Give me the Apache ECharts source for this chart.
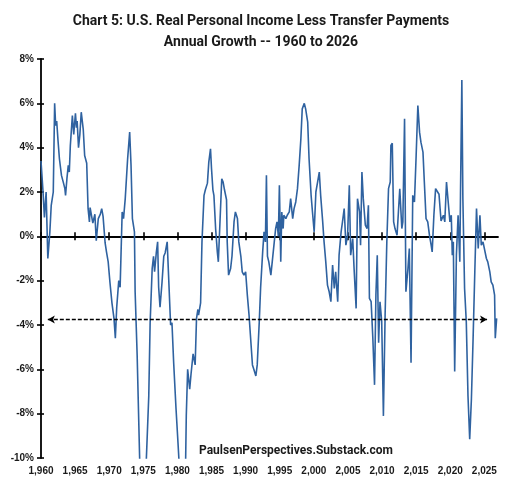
<!DOCTYPE html>
<html>
<head>
<meta charset="utf-8">
<script src="https://cdn.jsdelivr.net/npm/echarts@6/dist/echarts.min.js"></script>
<style>
  html, body { margin: 0; padding: 0; background: #fff; }
  #main { width: 522px; height: 486px; }
</style>
</head>
<body>
<div id="main"></div>
<script>
// year (fractional) and annual growth in %
var years = [
  1960.0, 1960.3, 1960.5, 1960.75, 1961.0, 1961.3, 1961.5, 1961.8, 1962.0, 1962.15,
  1962.3, 1962.5, 1962.7, 1963.0, 1963.3, 1963.5, 1963.6, 1963.8, 1964.0, 1964.15,
  1964.3, 1964.6, 1964.8, 1965.05, 1965.2, 1965.3, 1965.5, 1965.7, 1965.9, 1966.2,
  1966.4, 1966.7, 1966.9, 1967.1, 1967.2, 1967.4, 1967.6, 1967.9, 1968.1, 1968.4,
  1968.7, 1968.9, 1969.1, 1969.4, 1969.6, 1969.85, 1970.1, 1970.4, 1970.7, 1970.9,
  1971.1, 1971.4, 1971.6, 1971.9, 1972.1, 1972.35, 1972.7, 1973.0, 1973.2, 1973.4,
  1973.7, 1973.8, 1974.1, 1974.5, 1974.8, 1975.2, 1975.5, 1975.8, 1976.0, 1976.3,
  1976.5, 1976.65, 1976.9, 1977.1, 1977.25, 1977.45, 1977.75, 1978.0, 1978.2, 1978.5,
  1978.7, 1979.0, 1979.2, 1979.45, 1979.8, 1980.1, 1980.3, 1980.7, 1981.0, 1981.2,
  1981.3, 1981.5, 1981.8, 1982.0, 1982.3, 1982.6, 1982.8, 1983.0, 1983.1, 1983.4,
  1983.6, 1983.9, 1984.1, 1984.4, 1984.6, 1984.85, 1985.0, 1985.2, 1985.35, 1985.6,
  1985.85, 1986.0, 1986.2, 1986.5, 1986.7, 1986.9, 1987.2, 1987.3, 1987.5, 1987.8,
  1988.0, 1988.3, 1988.5, 1988.8, 1989.0, 1989.3, 1989.5, 1989.75, 1990.0, 1990.25,
  1990.5, 1990.7, 1991.0, 1991.2, 1991.5, 1991.7, 1992.0, 1992.2, 1992.5, 1992.7,
  1992.9, 1993.05, 1993.2, 1993.4, 1993.7, 1993.9, 1994.2, 1994.4, 1994.6, 1994.8,
  1994.95, 1995.15, 1995.3, 1995.5, 1995.6, 1995.9, 1996.1, 1996.4, 1996.6, 1996.9,
  1997.1, 1997.35, 1997.6, 1997.85, 1998.1, 1998.3, 1998.6, 1998.8, 1999.1, 1999.3,
  1999.6, 1999.8, 2000.05, 2000.3, 2000.55, 2000.8, 2001.0, 2001.3, 2001.5, 2001.75,
  2002.0, 2002.25, 2002.5, 2002.75, 2003.0, 2003.2, 2003.5, 2003.7, 2004.0, 2004.2,
  2004.45, 2004.7, 2004.95, 2005.2, 2005.4, 2005.7, 2005.9, 2006.2, 2006.4, 2006.7,
  2006.85, 2007.05, 2007.25, 2007.55, 2007.8, 2008.0, 2008.15, 2008.4, 2008.65, 2008.9,
  2009.1, 2009.3, 2009.5, 2009.7, 2009.95, 2010.2, 2010.45, 2010.7, 2010.95, 2011.2,
  2011.3, 2011.5, 2011.7, 2011.9, 2012.2, 2012.4, 2012.6, 2012.9, 2013.05, 2013.3,
  2013.5, 2013.8, 2014.0, 2014.25, 2014.5, 2014.75, 2015.0, 2015.25, 2015.5, 2015.7,
  2016.0, 2016.2, 2016.45, 2016.7, 2016.95, 2017.2, 2017.35, 2017.6, 2017.85, 2018.1,
  2018.35, 2018.65, 2019.0, 2019.2, 2019.45, 2019.7, 2019.95, 2020.15, 2020.3, 2020.45,
  2020.65, 2020.9, 2021.15, 2021.4, 2021.5, 2021.7, 2021.85, 2022.1, 2022.35, 2022.6,
  2022.85, 2023.1, 2023.35, 2023.6, 2023.85, 2024.1, 2024.35, 2024.55, 2024.8, 2025.05,
  2025.3, 2025.5, 2025.8, 2026.0, 2026.25, 2026.5, 2026.6, 2026.8
];
var growth = [
  3.4, 2.0, 0.85, 2.0, -1.0, 0.2, 1.4, 2.0, 6.0, 5.0,
  5.2, 4.3, 3.5, 2.75, 2.4, 2.15, 1.85, 2.6, 3.2, 2.9,
  4.1, 5.45, 4.6, 5.55, 4.9, 5.2, 4.0, 4.6, 5.6, 4.8,
  3.65, 3.3, 1.26, 0.65, 1.3, 1.3, 0.6, 1.0, -0.2, 0.8,
  1.0, 1.25, 0.9, -0.3, -0.7, -1.15, -2.05, -3.0, -3.7, -4.6,
  -3.2, -2.0, -2.3, 1.1, 0.8, 1.7, 3.5, 4.7, 3.2, 0.8,
  0.2, -2.5, -5.4, -10.5, -13.0, -12.0, -9.6, -7.2, -3.9, -1.45,
  -0.9, -1.6, -0.75, -0.25, -2.3, -3.2, -2.05, -0.9, -0.75, -0.25,
  -1.75, -4.0, -3.9, -5.7, -7.8, -9.4, -10.5, -12.0, -11.0, -10.2,
  -8.1, -6.0, -6.9, -6.2, -5.3, -5.8, -3.7, -3.3, -3.55, -3.0,
  -0.25, 1.85, 2.1, 2.4, 3.35, 3.95, 3.05, 2.1, 1.85, 0.35,
  -0.7, -1.15, 0.35, 2.6, 2.45, 2.1, 1.65, -0.25, -1.75, -1.45,
  -0.9, 0.65, 1.1, 0.8, -0.25, -0.9, -1.6, -1.75, -1.6, -2.65,
  -3.55, -4.45, -5.8, -6.0, -6.3, -5.8, -3.85, -2.3, -0.7, 0.2,
  -0.25, 2.75, -0.9, -1.15, -1.75, -1.15, -0.25, 0.35, 0.65, 0.0,
  2.3, -1.15, 1.1, 0.35, 0.95, 0.8, 0.95, 1.1, 1.7, 0.8,
  1.25, 1.55, 2.15, 3.2, 4.4, 5.75, 6.0, 5.75, 5.15, 3.5,
  1.85, 1.1, 0.2, 2.0, 2.45, 2.9, 1.85, 0.65, -0.25, -1.15,
  -2.2, -2.5, -2.95, -1.3, -2.35, -1.6, -2.95, -0.85, 0.2, 0.65,
  1.25, -0.4, 0.05, 2.3, -0.85, -0.1, -1.45, -3.25, 1.7, 1.1,
  -0.4, 2.9, 1.7, 0.5, 0.35, 1.4, -2.8, -2.95, -4.6, -6.7,
  -2.65, -0.85, -4.8, -2.95, -3.85, -8.1, -3.55, -0.25, 2.15, 2.45,
  4.1, 4.2, 0.65, 0.35, 0.05, 1.1, 2.15, 0.35, 0.65, 5.3,
  -2.5, -1.45, -0.55, -5.7, 1.85, 1.55, 3.65, 5.9, 4.7, 4.25,
  3.8, 2.45, 0.8, 0.65, 0.05, -0.4, -0.7, 0.95, 2.15, 2.15,
  1.9, 0.7, 0.95, 0.65, 2.45, 1.55, 0.65, 0.95, -0.85, -0.25,
  -6.1, -0.85, 0.95, -1.15, 1.85, 7.05, 1.7, -2.35, -3.85, -7.2,
  -9.15, -7.35, -4.6, -1.6, 1.25, -0.55, 0.95, -0.4, -0.25, -0.25,
  -1.0, -1.15, -1.6, -2.05, -2.2, -2.65, -4.6, -3.7
];
var yearTicks = [1960, 1965, 1970, 1975, 1980, 1985, 1990, 1995, 2000, 2005, 2010, 2015, 2020, 2025];
var arrowLevel = -3.75;
var arrowFrom = 1961.0;
var arrowTo = 2025.4;

var seriesData = [];
for (var i = 0; i < years.length; i++) {
    seriesData.push([years[i], growth[i]]);
}

var xMin = 1960, xMax = 2027;
var labelFont = 'Liberation Sans, Arial, sans-serif';

var myChart = echarts.init(document.getElementById('main'));
var option = {
    backgroundColor: '#fff',
    animation: false,
    title: {
        text: 'Chart 5: U.S. Real Personal Income Less Transfer Payments\nAnnual Growth -- 1960 to 2026',
        left: 'center',
        top: 6,
        textStyle: {
            fontFamily: 'Roboto',
            fontWeight: 'bold',
            fontSize: 14,
            lineHeight: 21,
            color: '#1a1a1a'
        }
    },
    grid: {
        left: 41,
        right: 24,
        top: 59,
        bottom: 28
    },
    graphic: [{
        type: 'text',
        left: 199,
        top: 445,
        style: {
            text: 'PaulsenPerspectives.Substack.com',
            font: 'bold 12px Roboto',
            fill: '#1a1a1a'
        }
    }],
    xAxis: [
        {   // labels along the bottom
            type: 'value',
            min: xMin,
            max: xMax,
            position: 'bottom',
            axisLine: { show: false, onZero: false },
            axisTick: { show: false },
            splitLine: { show: false },
            axisLabel: {
                customValues: yearTicks,
                margin: 8,
                fontFamily: labelFont,
                fontWeight: 'bold',
                fontSize: 10,
                color: '#1a1a1a'
            }
        },
        {   // zero line, ticks going down
            type: 'value',
            min: xMin,
            max: xMax,
            position: 'bottom',
            axisLine: { show: true, onZero: true, lineStyle: { color: '#000', width: 1.8 } },
            axisTick: { show: true, customValues: yearTicks, length: 4, lineStyle: { color: '#000', width: 1.6 } },
            axisLabel: { show: false },
            splitLine: { show: false }
        },
        {   // zero line, ticks going up
            type: 'value',
            min: xMin,
            max: xMax,
            position: 'top',
            axisLine: { show: false, onZero: true },
            axisTick: { show: true, customValues: yearTicks, length: 4, lineStyle: { color: '#000', width: 1.6 } },
            axisLabel: { show: false },
            splitLine: { show: false }
        }
    ],
    yAxis: [
        {
            type: 'value',
            min: -10,
            max: 8,
            interval: 2,
            axisLine: { show: true, onZero: false, lineStyle: { color: '#000', width: 1.8 } },
            axisTick: { show: true, length: 4, lineStyle: { color: '#000', width: 1.6 } },
            splitLine: { show: false },
            axisLabel: {
                formatter: '{value}%',
                margin: 7,
                fontFamily: labelFont,
                fontWeight: 'bold',
                fontSize: 10,
                color: '#1a1a1a'
            }
        },
        {
            type: 'value',
            min: -10,
            max: 8,
            interval: 2,
            position: 'left',
            axisLine: { show: false, onZero: false },
            axisTick: { show: true, inside: true, length: 3, lineStyle: { color: '#000', width: 1.6 } },
            axisLabel: { show: false },
            splitLine: { show: false }
        }
    ],
    series: [
        {
            name: 'Real personal income less transfers',
            type: 'line',
            xAxisIndex: 0,
            yAxisIndex: 0,
            data: seriesData,
            showSymbol: false,
            clip: true,
            lineStyle: { color: '#2f62a0', width: 1.6 },
            markLine: {
                silent: true,
                symbol: ['arrow', 'arrow'],
                symbolSize: [6, 7],
                label: { show: false },
                lineStyle: { color: '#000', type: [4, 2], width: 1.3 },
                data: [[
                    { coord: [arrowFrom, arrowLevel] },
                    { coord: [arrowTo, arrowLevel] }
                ]]
            }
        }
    ]
};
myChart.setOption(option);
</script>
</body>
</html>
